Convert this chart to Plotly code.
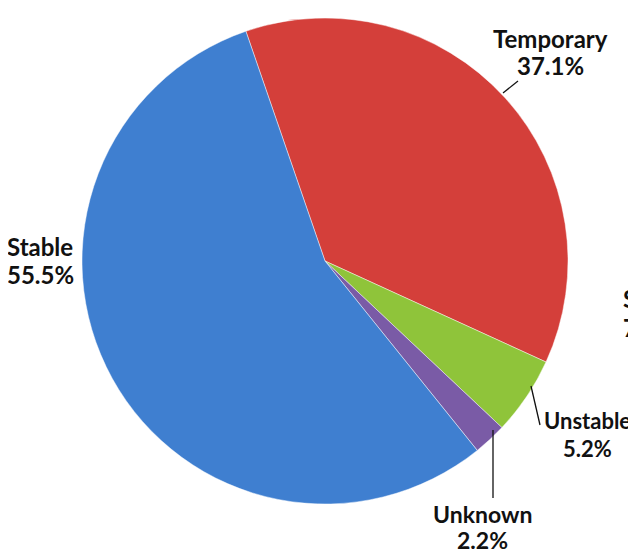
import plotly.graph_objects as go

# The page body has an 8px margin, so page pixel p maps to figure pixel p - 8.
OFF = 8
W, H = 636 - OFF, 554 - OFF

categories = ["Temporary", "Unstable", "Unknown", "Stable"]
shares = [37.1, 5.2, 2.2, 55.5]
colors = ["#d43f3a", "#8fc43a", "#7a5ba6", "#3f7fd0"]

def px(x):
    return (x - OFF) / W

def py(y):
    return 1 - (y - OFF) / H

fig = go.Figure()
fig.add_trace(go.Pie(
    labels=categories,
    values=shares,
    sort=False,
    direction="clockwise",
    rotation=-19,
    textinfo="none",
    hoverinfo="label+percent",
    marker=dict(colors=colors, line=dict(color="rgba(255,255,255,0.45)", width=1)),
    domain=dict(x=[px(82), px(568)], y=[py(504), py(18)]),
    showlegend=False,
))

# (x centre, y centre of name line, y centre of value line, font size) in page pixels
label_pos = {
    "Temporary": (550, 38, 66, 24),
    "Stable": (40, 246, 274, 24),
    "Unstable": (587, 420, 448, 22),
    "Unknown": (482, 514, 540, 23),
}
annotations = []
for cat, val in zip(categories, shares):
    x, y1, y2, fs = label_pos[cat]
    for txt, y in ((cat, y1), (f"{val:.1f}%", y2)):
        annotations.append(dict(
            x=px(x), y=py(y), xref="paper", yref="paper",
            text=f"<b>{txt}</b>",
            showarrow=False, xanchor="center", yanchor="middle",
            font=dict(family="Lato", size=fs, color="#111111"), align="center",
        ))
for txt, y in (("St", 298), ("7", 327)):
    annotations.append(dict(
        x=px(621), y=py(y), xref="paper", yref="paper",
        text=f"<b>{txt}</b>", showarrow=False,
        xanchor="left", yanchor="middle",
        font=dict(family="Lato", size=24, color="#111111"), align="left",
    ))

leaders = [
    ((518, 81), (503, 93)),
    ((540, 425), (531, 386)),
    ((493, 498), (493, 430)),
]
shapes = []
for (x0, y0), (x1, y1) in leaders:
    shapes.append(dict(type="line", xref="paper", yref="paper",
                       x0=px(x0), y0=py(y0), x1=px(x1), y1=py(y1),
                       line=dict(color="#111111", width=1.3)))

fig.update_layout(
    width=W, height=H,
    margin=dict(l=0, r=0, t=0, b=0),
    paper_bgcolor="white", plot_bgcolor="white",
    annotations=annotations, shapes=shapes,
)

fig.write_html("out.html")
